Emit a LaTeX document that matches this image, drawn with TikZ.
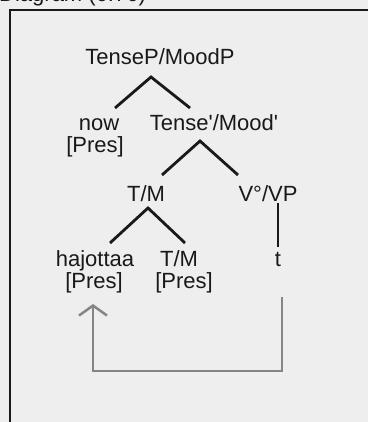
\documentclass[tikz,border=0pt]{standalone}
\usepackage{fontspec}
\setmainfont{Liberation Sans}
\usetikzlibrary{arrows.meta}
\definecolor{bgc}{HTML}{EEEEEE}
\definecolor{arrc}{HTML}{858585}
\tikzset{
  lbl/.style={inner sep=0pt, anchor=base, text=black!90, font=\fontsize{22}{22}\selectfont},
  branch/.style={line width=2.8pt, black!90},
  movearrow/.style={line width=2pt, arrc},
  frame/.style={line width=2pt, black!90}
}
\begin{document}
\begin{tikzpicture}[x=1pt,y=-1pt]
\useasboundingbox (0,0) rectangle (368,422);
\fill[bgc] (0,0) rectangle (368,422);
% title (cut off at the top edge, as in the reference)
\node[lbl, anchor=base west] (title) at (-1,2) {Diagram (6.76)};
% frame
\draw[frame] (368,10) -- (10,10) -- (10,423);
% nodes
\node[lbl] (root) at (160,65) {TenseP/MoodP};
\node[lbl] (now) at (99,131) {now};
\node[lbl] (nowf) at (95,153) {[Pres]};
\node[lbl] (tbar) at (214,131) {Tense\textquotesingle/Mood\textquotesingle};
\node[lbl] (tm) at (146,201) {T/M};
\node[lbl] (vp) at (268,201) {V°/VP};
\node[lbl] (haj) at (95,266) {hajottaa};
\node[lbl] (hajf) at (94,288) {[Pres]};
\node[lbl] (tm2) at (179,266) {T/M};
\node[lbl] (tm2f) at (184,288) {[Pres]};
\node[lbl] (t) at (278,266) {t};
% branch points
\coordinate (a1) at (151,77);
\coordinate (l1) at (115,108);
\coordinate (r1) at (190,108);
\coordinate (a2) at (200,141);
\coordinate (l2) at (162,175);
\coordinate (r2) at (238,175);
\coordinate (a3) at (148,208);
\coordinate (l3) at (110,243);
\coordinate (r3) at (185,243);
\coordinate (v1) at (278,203);
\coordinate (v2) at (278,247);
\draw[branch] (l1) -- (a1) -- (r1);
\draw[branch] (l2) -- (a2) -- (r2);
\draw[branch] (l3) -- (a3) -- (r3);
\draw[branch, line width=2.5pt] (v1) -- (v2);
% movement arrow
\coordinate (m1) at (282,297);
\coordinate (m2) at (282,371);
\coordinate (m3) at (93,371);
\coordinate (m4) at (93,304);
\draw[movearrow, -{Straight Barb[length=10pt, width=28pt, line width=2.5pt]}] (m1) -- (m2) -- (m3) -- (m4);
\end{tikzpicture}
\end{document}
